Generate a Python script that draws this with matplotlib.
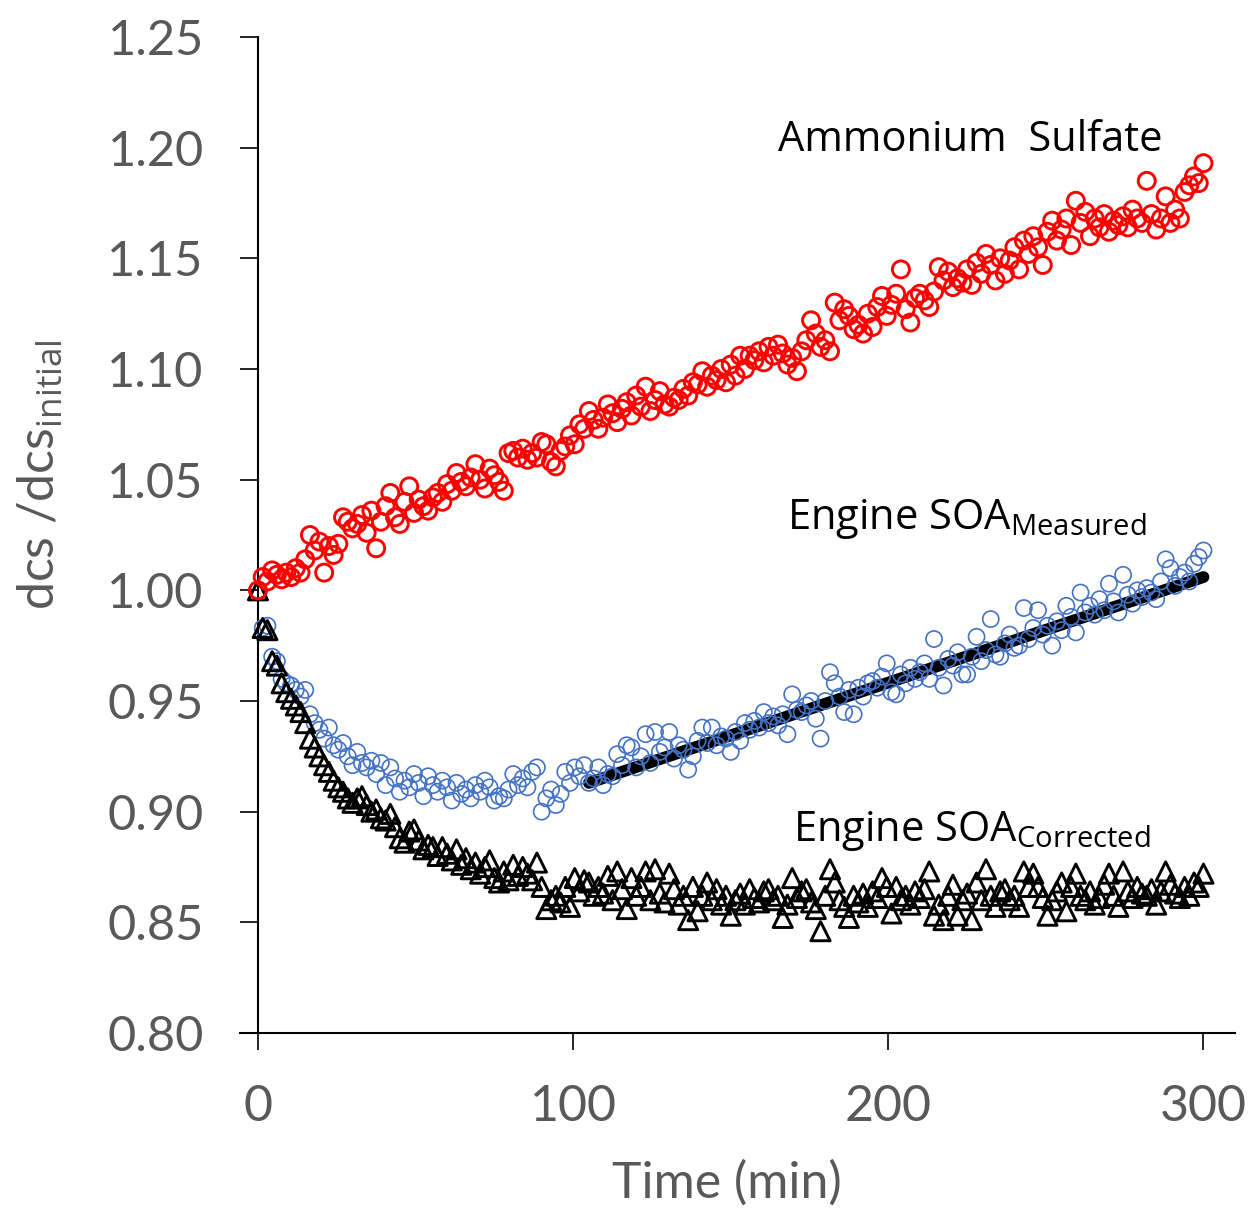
import numpy as np
import matplotlib
matplotlib.use("Agg")
import matplotlib.pyplot as plt

plt.rcParams['mathtext.fontset'] = 'custom'
plt.rcParams['mathtext.rm'] = 'Open Sans'
plt.rcParams['mathtext.it'] = 'Open Sans'

# ---- data (time step 1.5 min) ----
time = [i * 1.5 for i in range(201)]

ammonium_sulfate = [
    1.000, 1.006, 1.004, 1.009, 1.007, 1.005, 1.008, 1.006, 1.010, 1.008,
    1.014, 1.025, 1.018, 1.022, 1.008, 1.020, 1.016, 1.021, 1.033, 1.031,
    1.028, 1.030, 1.034, 1.026, 1.036, 1.019, 1.031, 1.038, 1.044, 1.033,
    1.030, 1.040, 1.047, 1.035, 1.041, 1.038, 1.036, 1.042, 1.044, 1.040,
    1.048, 1.045, 1.053, 1.049, 1.047, 1.051, 1.057, 1.050, 1.046, 1.055,
    1.052, 1.049, 1.045, 1.062, 1.063, 1.060, 1.064, 1.059, 1.062, 1.060,
    1.067, 1.066, 1.058, 1.056, 1.063, 1.065, 1.070, 1.066, 1.075, 1.073,
    1.081, 1.077, 1.073, 1.078, 1.084, 1.080, 1.076, 1.082, 1.085, 1.079,
    1.088, 1.083, 1.092, 1.081, 1.086, 1.090, 1.084, 1.083, 1.087, 1.086,
    1.091, 1.088, 1.094, 1.093, 1.099, 1.092, 1.097, 1.095, 1.100, 1.094,
    1.102, 1.097, 1.106, 1.100, 1.106, 1.104, 1.108, 1.103, 1.110, 1.106,
    1.111, 1.107, 1.102, 1.105, 1.099, 1.108, 1.113, 1.122, 1.116, 1.110,
    1.113, 1.108, 1.130, 1.122, 1.127, 1.124, 1.118, 1.120, 1.116, 1.125,
    1.119, 1.128, 1.133, 1.124, 1.129, 1.134, 1.145, 1.127, 1.121, 1.132,
    1.134, 1.131, 1.128, 1.135, 1.146, 1.140, 1.144, 1.137, 1.141, 1.139,
    1.145, 1.138, 1.148, 1.143, 1.152, 1.147, 1.140, 1.150, 1.143, 1.149,
    1.155, 1.145, 1.158, 1.152, 1.160, 1.155, 1.147, 1.162, 1.167, 1.158,
    1.163, 1.168, 1.156, 1.176, 1.166, 1.171, 1.160, 1.168, 1.164, 1.170,
    1.162, 1.167, 1.165, 1.169, 1.164, 1.172, 1.168, 1.166, 1.185, 1.170,
    1.163, 1.168, 1.178, 1.166, 1.172, 1.168, 1.180, 1.183, 1.187, 1.184,
    1.193,
]

soa_measured = [
    1.000, 0.983, 0.984, 0.970, 0.968, 0.960, 0.958, 0.957, 0.955, 0.952,
    0.955, 0.944, 0.940, 0.937, 0.933, 0.938, 0.930, 0.928, 0.931, 0.925,
    0.921, 0.927, 0.922, 0.920, 0.923, 0.917, 0.922, 0.912, 0.920, 0.915,
    0.909, 0.914, 0.911, 0.917, 0.913, 0.907, 0.916, 0.912, 0.909, 0.914,
    0.911, 0.905, 0.913, 0.908, 0.910, 0.906, 0.912, 0.909, 0.914, 0.911,
    0.905, 0.907, 0.906, 0.910, 0.917, 0.912, 0.915, 0.911, 0.918, 0.920,
    0.900, 0.906, 0.910, 0.903, 0.908, 0.918, 0.913, 0.920, 0.916, 0.921,
    0.913, 0.915, 0.920, 0.912, 0.917, 0.916, 0.926, 0.921, 0.930, 0.929,
    0.920, 0.925, 0.935, 0.922, 0.936, 0.927, 0.929, 0.936, 0.924, 0.930,
    0.928, 0.919, 0.925, 0.932, 0.938, 0.931, 0.938, 0.930, 0.934, 0.933,
    0.927, 0.936, 0.932, 0.940, 0.937, 0.941, 0.938, 0.945, 0.940, 0.943,
    0.939, 0.944, 0.935, 0.953, 0.946, 0.945, 0.948, 0.950, 0.942, 0.933,
    0.950, 0.963, 0.958, 0.952, 0.945, 0.955, 0.944, 0.956, 0.952, 0.958,
    0.959, 0.956, 0.961, 0.967, 0.954, 0.953, 0.962, 0.958, 0.965, 0.960,
    0.963, 0.967, 0.960, 0.978, 0.965, 0.957, 0.969, 0.966, 0.972, 0.962,
    0.962, 0.970, 0.979, 0.968, 0.973, 0.987, 0.971, 0.970, 0.976, 0.980,
    0.974, 0.975, 0.992, 0.978, 0.983, 0.991, 0.980, 0.984, 0.975, 0.986,
    0.982, 0.993, 0.988, 0.981, 0.999, 0.990, 0.993, 0.989, 0.996, 0.991,
    1.003, 0.995, 0.990, 1.007, 0.998, 0.994, 1.000, 0.997, 1.001, 0.999,
    0.996, 1.004, 1.014, 1.010, 1.002, 1.006, 1.008, 1.004, 1.012, 1.015,
    1.018,
]

soa_corrected = [
    1.000, 0.983, 0.982, 0.968, 0.966, 0.958, 0.954, 0.951, 0.948, 0.945,
    0.940, 0.933, 0.929, 0.925, 0.921, 0.918, 0.914, 0.911, 0.909, 0.906,
    0.904, 0.906, 0.907, 0.903, 0.900, 0.901, 0.897, 0.896, 0.899, 0.893,
    0.888, 0.886, 0.891, 0.892, 0.887, 0.883, 0.885, 0.884, 0.880, 0.884,
    0.881, 0.878, 0.883, 0.876, 0.879, 0.874, 0.877, 0.872, 0.875, 0.878,
    0.870, 0.868, 0.873, 0.869, 0.876, 0.871, 0.875, 0.872, 0.869, 0.877,
    0.866, 0.856, 0.860, 0.862, 0.859, 0.866, 0.857, 0.870, 0.864, 0.869,
    0.868, 0.862, 0.866, 0.863, 0.871, 0.860, 0.873, 0.865, 0.856, 0.870,
    0.862, 0.866, 0.873, 0.860, 0.874, 0.863, 0.859, 0.872, 0.865, 0.858,
    0.862, 0.851, 0.866, 0.855, 0.862, 0.868, 0.860, 0.865, 0.858, 0.862,
    0.853, 0.860, 0.863, 0.858, 0.865, 0.861, 0.859, 0.864, 0.865, 0.860,
    0.862, 0.852, 0.858, 0.870, 0.861, 0.864, 0.865, 0.859, 0.856, 0.846,
    0.862, 0.874, 0.868, 0.860, 0.857, 0.852, 0.862, 0.859, 0.863, 0.857,
    0.864, 0.861, 0.870, 0.866, 0.854, 0.866, 0.860, 0.862, 0.858, 0.864,
    0.861, 0.865, 0.873, 0.853, 0.858, 0.851, 0.862, 0.867, 0.853, 0.860,
    0.863, 0.851, 0.868, 0.860, 0.874, 0.862, 0.857, 0.864, 0.865, 0.860,
    0.862, 0.857, 0.873, 0.866, 0.872, 0.866, 0.861, 0.853, 0.860, 0.864,
    0.868, 0.855, 0.866, 0.872, 0.862, 0.860, 0.864, 0.858, 0.861, 0.867,
    0.872, 0.862, 0.857, 0.873, 0.864, 0.861, 0.866, 0.863, 0.862, 0.865,
    0.858, 0.864, 0.873, 0.867, 0.863, 0.861, 0.866, 0.862, 0.868, 0.866,
    0.872,
]

fit_time = [105, 300]
fit_value = [0.913, 1.006]

x_ticks = [0, 100, 200, 300]
y_ticks = [0.80, 0.85, 0.90, 0.95, 1.00, 1.05, 1.10, 1.15, 1.20, 1.25]

# ---- figure ----
W, H = 1251, 1208
fig = plt.figure(figsize=(W / 100, H / 100), dpi=100)
ax = fig.add_axes([240 / W, 1 - 1033 / H, (1235 - 240) / W, (1033 - 37) / H])

gray = '#595959'

ax.plot(fit_time, fit_value, color='black', lw=8.5, solid_capstyle='round', zorder=2)
ax.scatter(time, soa_measured, s=135, facecolors='none', edgecolors='#4472C4',
           linewidths=1.2, zorder=3)
ax.scatter(time, soa_corrected, s=190, marker='^', facecolors='none', edgecolors='black',
           linewidths=2.1, zorder=4)
ax.scatter(time, ammonium_sulfate, s=150, facecolors='none', edgecolors='#FF0000',
           linewidths=2.1, zorder=5)

ax.set_xlim(-5.7, 310)
ax.set_ylim(0.80, 1.25)

for s in ['top', 'right']:
    ax.spines[s].set_visible(False)
ax.spines['left'].set_position(('data', 0))
for s in ['left', 'bottom']:
    ax.spines[s].set_linewidth(1.5)
    ax.spines[s].set_color('black')

ax.set_xticks(x_ticks)
ax.set_yticks(y_ticks)
ax.set_xticklabels([str(v) for v in x_ticks])
ax.set_yticklabels(['%.2f' % v for v in y_ticks])
ax.tick_params(axis='y', direction='out', length=13, width=1.2, pad=26,
               labelsize=35, labelcolor=gray)
ax.tick_params(axis='x', direction='out', length=12.5, width=1.2, pad=24,
               labelsize=36, labelcolor=gray)
for lab in ax.get_xticklabels() + ax.get_yticklabels():
    lab.set_family('Lato')

fig.text(727 / W, 1 - 1183 / H, 'Time (min)', fontsize=36, color=gray,
         family='Lato', ha='center', va='center')
fig.text(40 / W, 1 - 475 / H, r'dcs /dcs$_{\mathrm{initial}}$', fontsize=36, color=gray,
         family='Lato', ha='center', va='center', rotation=90)

fig.text(778 / W, 1 - 151 / H, 'Ammonium  Sulfate', fontsize=30, color='black',
         family='Open Sans', ha='left', va='baseline')
fig.text(787 / W, 1 - 529 / H, r'Engine SOA$_{\mathrm{Measured}}$', fontsize=30, color='black',
         family='Open Sans', ha='left', va='baseline')
fig.text(793 / W, 1 - 841 / H, r'Engine SOA$_{\mathrm{Corrected}}$', fontsize=30, color='black',
         family='Open Sans', ha='left', va='baseline')

fig.savefig('out.png', dpi=100)
